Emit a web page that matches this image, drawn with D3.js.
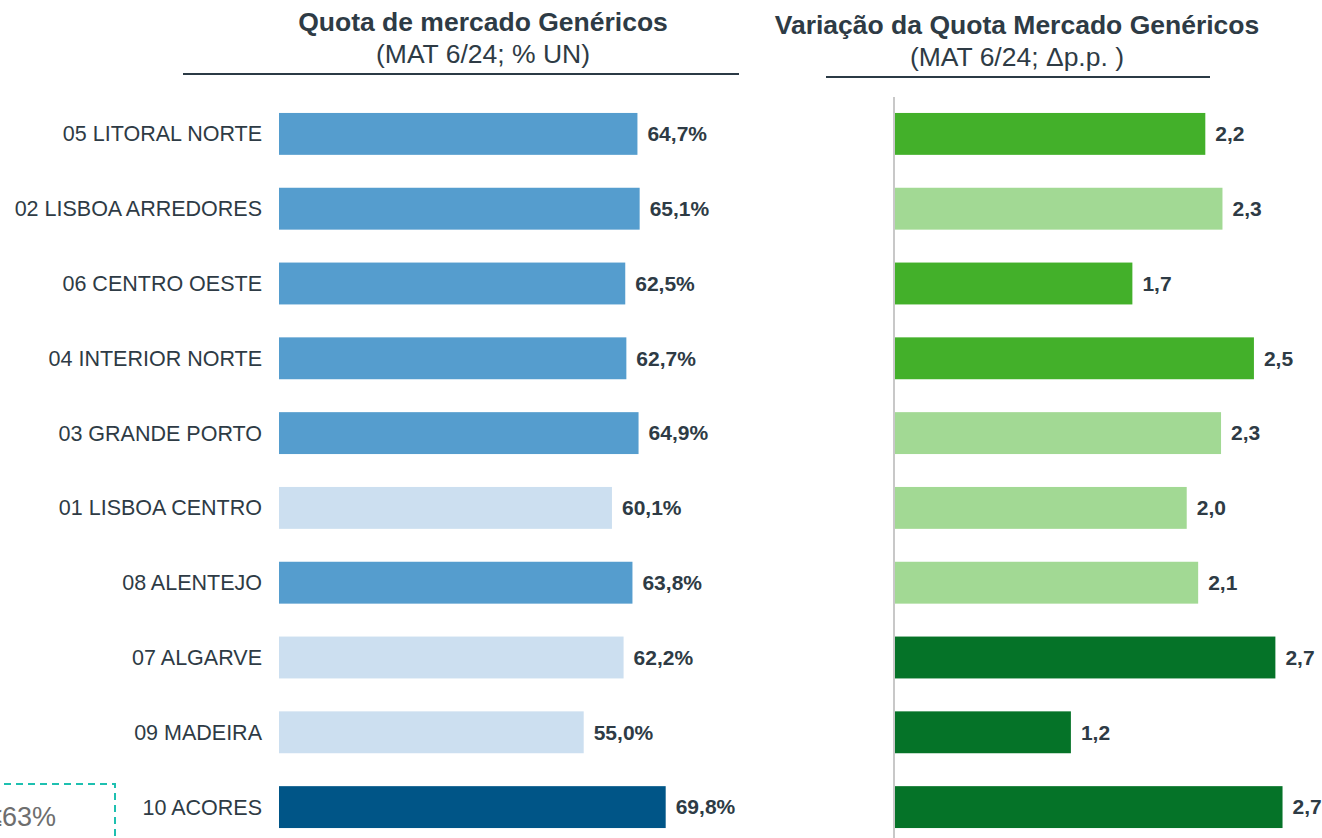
<!DOCTYPE html>
<html>
<head>
<meta charset="utf-8">
<script src="https://cdn.jsdelivr.net/npm/d3@7"></script>
<style>
  body { margin: 0; background: #fff; }
  svg { display: block; font-family: "Liberation Sans", Arial, sans-serif; }
</style>
</head>
<body>
<svg id="chart"></svg>
<script>
// regions, top to bottom
var regions = ["05 LITORAL NORTE", "02 LISBOA ARREDORES", "06 CENTRO OESTE", "04 INTERIOR NORTE",
               "03 GRANDE PORTO", "01 LISBOA CENTRO", "08 ALENTEJO", "07 ALGARVE", "09 MADEIRA", "10 ACORES"]
// quota de mercado (%)
var quota = [64.7, 65.1, 62.5, 62.7, 64.9, 60.1, 63.8, 62.2, 55.0, 69.8]
var quotaGroup = ["mid", "mid", "mid", "mid", "mid", "low", "mid", "low", "low", "high"]
// variacao (p.p.)
var variacao = [2.17, 2.29, 1.66, 2.51, 2.28, 2.04, 2.12, 2.66, 1.23, 2.71]
var variacaoGroup = ["mid", "low", "mid", "mid", "low", "low", "low", "high", "high", "high"]

var leftTitle = "Quota de mercado Genéricos"
var leftSub = "(MAT 6/24; % UN)"
var rightTitle = "Variação da Quota Mercado Genéricos"
var rightSub = "(MAT 6/24; Δp.p. )"
var boxText = "≤63%"

var dims = { width: 1322, height: 838 }

var svg = d3.select("#chart")
            .attr("width", dims.width)
            .attr("height", dims.height)

var blueColors = { low: "#CCDFF0", mid: "#559DCE", high: "#005587" }
var greenColors = { low: "#A2D994", mid: "#43B02A", high: "#057328" }
var textColor = "#2E3B45"

var yScale = d3.scaleBand()
               .domain(regions)
               .range([96.5, 844.5])
               .paddingInner(0.44)
               .paddingOuter(0.22)

var xLeft = d3.scaleLinear()
              .domain([0, 100])
              .range([279, 279 + 554])

var xRight = d3.scaleLinear()
               .domain([0, 3])
               .range([895, 895 + 429])

// titles
var titles = [
    { t: leftTitle, s: leftSub, cx: 483, y: 31, x1: 183, x2: 739, ly: 74 },
    { t: rightTitle, s: rightSub, cx: 1017, y: 34, x1: 826, x2: 1210, ly: 77 }
]
titles.forEach(function(d) {
    svg.append("text")
       .attr("x", d.cx).attr("y", d.y)
       .attr("text-anchor", "middle")
       .attr("font-size", "26.5px").attr("font-weight", "bold")
       .attr("fill", textColor)
       .text(d.t)
    svg.append("text")
       .attr("x", d.cx).attr("y", d.y + 32)
       .attr("text-anchor", "middle")
       .attr("font-size", "26.5px")
       .attr("fill", textColor)
       .text(d.s)
    svg.append("line")
       .attr("x1", d.x1).attr("x2", d.x2)
       .attr("y1", d.ly).attr("y2", d.ly)
       .attr("stroke", "#2B3A45").attr("stroke-width", 2)
})

// category labels
svg.append("g")
   .selectAll("text")
   .data(regions)
   .enter()
   .append("text")
   .attr("x", 262)
   .attr("y", d => yScale(d) + yScale.bandwidth() / 2)
   .attr("dy", "0.35em")
   .attr("text-anchor", "end")
   .attr("font-size", "21.5px")
   .attr("fill", textColor)
   .text(d => d)

// left bars
svg.append("g")
   .selectAll("rect")
   .data(regions)
   .enter()
   .append("rect")
   .attr("x", xLeft(0))
   .attr("y", d => yScale(d))
   .attr("width", (d, i) => xLeft(quota[i]) - xLeft(0))
   .attr("height", yScale.bandwidth())
   .attr("fill", (d, i) => blueColors[quotaGroup[i]])

svg.append("g")
   .selectAll("text")
   .data(regions)
   .enter()
   .append("text")
   .attr("x", (d, i) => xLeft(quota[i]) + 10)
   .attr("y", d => yScale(d) + yScale.bandwidth() / 2)
   .attr("dy", "0.35em")
   .attr("font-size", "21px").attr("font-weight", "bold")
   .attr("fill", textColor)
   .text((d, i) => quota[i].toFixed(1).replace(".", ",") + "%")

// right axis line
svg.append("line")
   .attr("x1", xRight(0) - 1).attr("x2", xRight(0) - 1)
   .attr("y1", 97).attr("y2", dims.height)
   .attr("stroke", "#C8C8C8").attr("stroke-width", 2)

// right bars
svg.append("g")
   .selectAll("rect")
   .data(regions)
   .enter()
   .append("rect")
   .attr("x", xRight(0))
   .attr("y", d => yScale(d))
   .attr("width", (d, i) => xRight(variacao[i]) - xRight(0))
   .attr("height", yScale.bandwidth())
   .attr("fill", (d, i) => greenColors[variacaoGroup[i]])

svg.append("g")
   .selectAll("text")
   .data(regions)
   .enter()
   .append("text")
   .attr("x", (d, i) => xRight(variacao[i]) + 10)
   .attr("y", d => yScale(d) + yScale.bandwidth() / 2)
   .attr("dy", "0.35em")
   .attr("font-size", "21px").attr("font-weight", "bold")
   .attr("fill", textColor)
   .text((d, i) => variacao[i].toFixed(1).replace(".", ","))

// dashed legend box, cut off at the edge
svg.append("rect")
   .attr("x", -200).attr("y", 784)
   .attr("width", 315).attr("height", 120)
   .attr("fill", "none")
   .attr("stroke", "#1EC0B0").attr("stroke-width", 2)
   .attr("stroke-dasharray", "7,5")

svg.append("text")
   .attr("x", 56).attr("y", 826)
   .attr("text-anchor", "end")
   .attr("font-size", "27px")
   .attr("fill", "#6E6E6E")
   .text(boxText)
</script>
</body>
</html>
